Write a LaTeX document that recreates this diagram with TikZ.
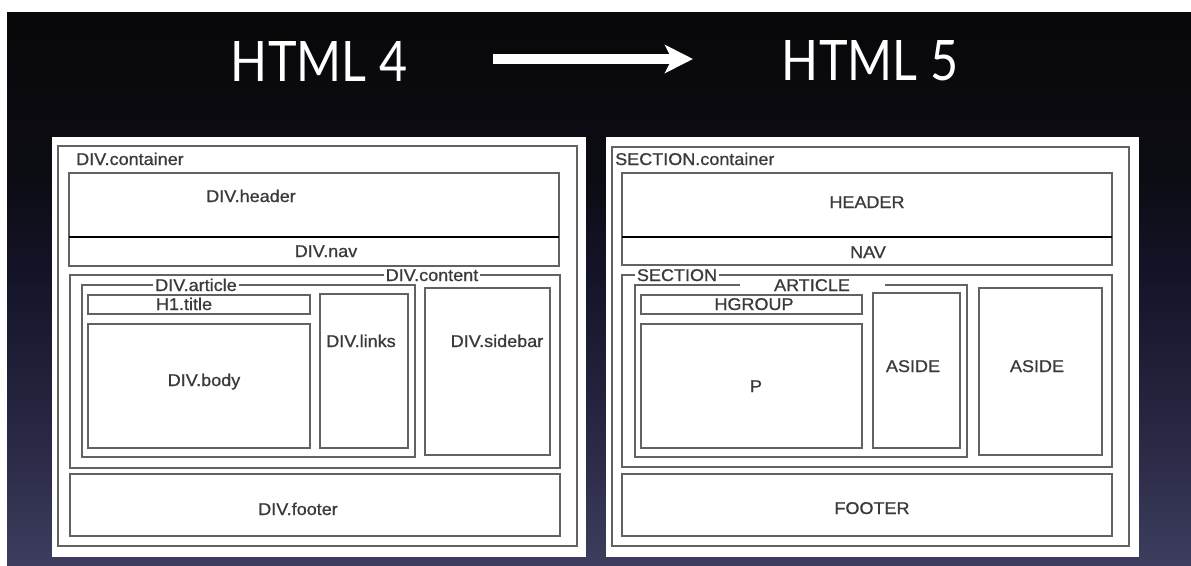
\documentclass[tikz,border=0pt]{standalone}
\usepackage{graphicx}
\usepackage{fontspec}
\usetikzlibrary{arrows.meta}
\newfontfamily\boxfont{Liberation Sans}[FakeStretch=1.06, FakeBold=0.8]
\newfontfamily\titlefont{Lato}
\definecolor{bgA}{HTML}{08080A}
\definecolor{bgB}{HTML}{0C0C14}
\definecolor{bgC}{HTML}{15152B}
\definecolor{bgD}{HTML}{262642}
\definecolor{bgE}{HTML}{3D3D5E}
\definecolor{txt}{HTML}{3A3A3A}
\definecolor{lin}{HTML}{626262}
\pgfdeclareverticalshading{bgsh}{100bp}{color(0bp)=(bgE); color(25bp)=(bgE); color(38bp)=(bgD); color(50bp)=(bgC); color(60bp)=(bgB); color(75bp)=(bgA); color(100bp)=(bgA)}
\tikzset{
  boxst/.style={draw=lin, line width=1.3pt, preaction={draw=black!25, line width=2.8pt}},
  sep/.style={draw=black, line width=2pt},
  lbl/.style={font=\boxfont\fontsize{17}{17}\selectfont, text=txt, inner sep=0pt, text height=12pt, text depth=0pt},
  gap/.style={lbl, fill=white, inner xsep=2pt, inner ysep=1pt},
  titlest/.style={text=white, font=\titlefont, inner sep=0pt},
  bigarrow/.style={draw=white, line width=10pt, -{Stealth[length=28pt, width=28pt, inset=7pt]}}
}
\begin{document}
\begin{tikzpicture}[x=1pt, y=-1pt]
\useasboundingbox (0,0) rectangle (1191,565);
\fill[white] (0,0) rectangle (1191,565);
\shade[shading=bgsh] (7,12) rectangle (1191,565);
% title
\node[titlest] (t4) at (319,61) {\resizebox{176pt}{40pt}{HTML 4}};
\node[titlest] (t5) at (870,61) {\resizebox{176pt}{40pt}{HTML 5}};
\coordinate (arrS) at (493,59);
\coordinate (arrE) at (693,59);
\draw[bigarrow] (arrS) -- (arrE);
% ---------------- left panel ----------------
\fill[white] (52,137) rectangle (586,557);
\draw[boxst] (58,146) rectangle (577,546);
\draw[boxst] (69,173) rectangle (559,237);
\draw[boxst] (69,237) rectangle (559,266);
\draw[sep] (69,237) -- (559,237);
\draw[boxst] (70,275) rectangle (560,468);
\draw[boxst] (82,285) rectangle (415,457);
\draw[boxst] (88,295) rectangle (310,314);
\draw[boxst] (88,324) rectangle (310,448);
\draw[boxst] (320,294) rectangle (408,448);
\draw[boxst] (425,288) rectangle (550,455);
\draw[boxst] (70,474) rectangle (560,536);
\node[lbl, anchor=west] (lcont) at (76,159) {DIV.container};
\node[lbl] (lhead) at (251,196) {DIV.header};
\node[lbl] (lnav) at (326,251) {DIV.nav};
\node[gap] (lcontent) at (432,275) {DIV.content};
\node[gap] (larticle) at (196,285) {DIV.article};
\node[lbl] (ltitle) at (184,304) {H1.title};
\node[lbl] (lbody) at (204,380) {DIV.body};
\node[lbl] (llinks) at (361,341) {DIV.links};
\node[lbl] (lside) at (497,341) {DIV.sidebar};
\node[lbl] (lfoot) at (298,509) {DIV.footer};
% ---------------- right panel ----------------
\fill[white] (606,137) rectangle (1139,557);
\draw[boxst] (612,147) rectangle (1129,546);
\draw[boxst] (622,173) rectangle (1112,237);
\draw[boxst] (622,237) rectangle (1112,265);
\draw[sep] (622,237) -- (1112,237);
\draw[boxst] (622,275) rectangle (1112,467);
\draw[boxst] (635,285) rectangle (967,457);
\draw[boxst] (641,295) rectangle (862,314);
\draw[boxst] (641,324) rectangle (862,448);
\draw[boxst] (873,293) rectangle (960,448);
\draw[boxst] (979,288) rectangle (1102,455);
\draw[boxst] (622,474) rectangle (1112,536);
\node[lbl, anchor=west] (rcont) at (615,159) {SECTION.container};
\node[lbl] (rhead) at (867,202) {HEADER};
\node[lbl] (rnav) at (868,252) {NAV};
\node[gap] (rsection) at (677,275) {SECTION};
\node[gap, minimum width=145pt] (rarticle) at (812,285) {ARTICLE};
\node[lbl] (rhgroup) at (754,304) {HGROUP};
\node[lbl] (rp) at (756,386) {P};
\node[lbl] (raside1) at (913,366) {ASIDE};
\node[lbl] (raside2) at (1037,366) {ASIDE};
\node[lbl] (rfoot) at (872,508) {FOOTER};
\end{tikzpicture}
\end{document}
